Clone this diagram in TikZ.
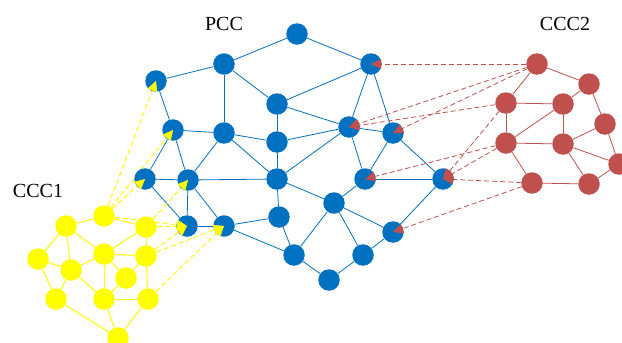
\documentclass[tikz,border=0pt]{standalone}
\usepackage{fontspec}
\setmainfont{Liberation Serif}
\usetikzlibrary{arrows.meta,calc}
\pgfdeclarelayer{bg}
\pgfsetlayers{bg,main}
\definecolor{pccblue}{HTML}{0070C0}
\definecolor{cccred}{HTML}{C0504D}
\definecolor{cccyellow}{HTML}{FFFF00}
\tikzset{
  vtx/.style={circle, minimum size=21.5pt, inner sep=0pt, draw=none},
  pccnode/.style={vtx, fill=pccblue},
  ynode/.style={vtx, fill=cccyellow},
  rnode/.style={vtx, fill=cccred},
  pccedge/.style={draw=pccblue, line width=0.8pt},
  yedge/.style={draw=cccyellow, line width=1pt},
  redge/.style={draw=cccred, line width=0.8pt},
  ylink/.style={draw=cccyellow, line width=1pt, dash pattern=on 5pt off 3pt},
  rlink/.style={draw=cccred, line width=0.8pt, dash pattern=on 5pt off 3pt},
  ytip/.style={draw=cccyellow, fill=cccyellow, line width=0.5pt, -{Triangle[length=10pt,width=10pt]}},
  rtip/.style={draw=cccred, fill=cccred, line width=0.5pt, -{Triangle[length=10pt,width=10pt]}},
  lbl/.style={font=\fontsize{20}{24}\selectfont, inner sep=0pt}
}
\begin{document}
\begin{tikzpicture}[x=1pt,y=-1pt]
\useasboundingbox (0,0) rectangle (622,343);

% PCC network
\node[pccnode] (B1) at (297,34) {};
\node[pccnode] (B2) at (224,64) {};
\node[pccnode] (B3) at (371,64) {};
\node[pccnode] (B4) at (156,81) {};
\node[pccnode] (B5) at (277,104) {};
\node[pccnode] (B6) at (173,130) {};
\node[pccnode] (B7) at (224,133) {};
\node[pccnode] (B8) at (277,142) {};
\node[pccnode] (B9) at (349,127) {};
\node[pccnode] (B10) at (393,133) {};
\node[pccnode] (B11) at (145,179) {};
\node[pccnode] (B12) at (188,180) {};
\node[pccnode] (B13) at (277,179) {};
\node[pccnode] (B14) at (365,179) {};
\node[pccnode] (B15) at (443,179) {};
\node[pccnode] (B16) at (334,203) {};
\node[pccnode] (B17) at (279,217) {};
\node[pccnode] (B18) at (187,226) {};
\node[pccnode] (B19) at (224,226) {};
\node[pccnode] (B20) at (393,232) {};
\node[pccnode] (B21) at (294,255) {};
\node[pccnode] (B22) at (363,255) {};
\node[pccnode] (B23) at (329,280) {};

% CCC1 network
\node[ynode] (Y1) at (104,216) {};
\node[ynode] (Y2) at (66,226) {};
\node[ynode] (Y3) at (146,227) {};
\node[ynode] (Y4) at (38,259) {};
\node[ynode] (Y5) at (104,254) {};
\node[ynode] (Y6) at (146,256) {};
\node[ynode] (Y7) at (71,270) {};
\node[ynode] (Y8) at (126,278) {};
\node[ynode] (Y9) at (56,299) {};
\node[ynode] (Y10) at (104,299) {};
\node[ynode] (Y11) at (148,299) {};
\node[ynode] (Y12) at (118,338) {};

% CCC2 network
\node[rnode] (R1) at (537,64) {};
\node[rnode] (R2) at (589,84) {};
\node[rnode] (R3) at (506,103) {};
\node[rnode] (R4) at (563,104) {};
\node[rnode] (R5) at (605,124) {};
\node[rnode] (R6) at (506,143) {};
\node[rnode] (R7) at (563,144) {};
\node[rnode] (R8) at (619,164) {};
\node[rnode] (R9) at (532,183) {};
\node[rnode] (R10) at (589,184) {};

% labels
\node[lbl] (pcc) at (224,24) {PCC};
\node[lbl] (ccc2) at (565,24) {CCC2};
\node[lbl] (ccc1) at (38,191) {CCC1};

\begin{pgfonlayer}{bg}
\foreach \a/\b in {B1/B2,B1/B3,B2/B4,B2/B7,B2/B5,B3/B5,B3/B9,B3/B10,B4/B6,
  B5/B8,B5/B9,B6/B7,B6/B11,B6/B12,B7/B8,B7/B12,B7/B13,B8/B9,B8/B13,
  B9/B10,B9/B13,B9/B14,B10/B14,B10/B15,B11/B12,B11/B18,B12/B13,B12/B18,
  B12/B19,B13/B17,B13/B16,B14/B15,B14/B16,B15/B20,B16/B21,B16/B22,B16/B20,
  B17/B19,B17/B21,B18/B19,B19/B21,B20/B22,B21/B23,B22/B23}
  \draw[pccedge] (\a) -- (\b);
\foreach \a/\b in {Y1/Y2,Y1/Y3,Y2/Y4,Y2/Y5,Y2/Y7,Y3/Y5,Y3/Y6,Y4/Y7,Y4/Y9,
  Y5/Y6,Y5/Y7,Y5/Y10,Y5/Y8,Y6/Y8,Y6/Y11,Y7/Y9,Y7/Y10,Y8/Y10,Y9/Y12,
  Y10/Y11,Y10/Y12,Y11/Y12}
  \draw[yedge] (\a) -- (\b);
\foreach \a/\b in {R1/R2,R1/R3,R2/R4,R2/R5,R3/R4,R3/R6,R4/R6,R4/R7,R5/R7,
  R5/R8,R6/R7,R6/R9,R7/R8,R7/R10,R8/R10,R9/R10}
  \draw[redge] (\a) -- (\b);
\end{pgfonlayer}

% dashed links from CCC1 into PCC
\foreach \s/\t in {Y1/B4,Y1/B6,Y1/B11,Y1/B18,Y3/B12,Y3/B18,Y6/B18,Y6/B19,Y11/B19}{
  \begin{pgfonlayer}{bg}\draw[ylink] (\s) -- (\t.center);\end{pgfonlayer}
  \draw[ytip] ($(\t.center)!10pt!(\s)$) -- (\t.center);
}
% dashed links from CCC2 into PCC
\foreach \s/\t in {R1/B3,R1/B9,R1/B10,R3/B9,R3/B15,R6/B14,R6/B15,R9/B15,R9/B20}{
  \begin{pgfonlayer}{bg}\draw[rlink] (\s) -- (\t.center);\end{pgfonlayer}
  \draw[rtip] ($(\t.center)!10pt!(\s)$) -- (\t.center);
}
\end{tikzpicture}
\end{document}
